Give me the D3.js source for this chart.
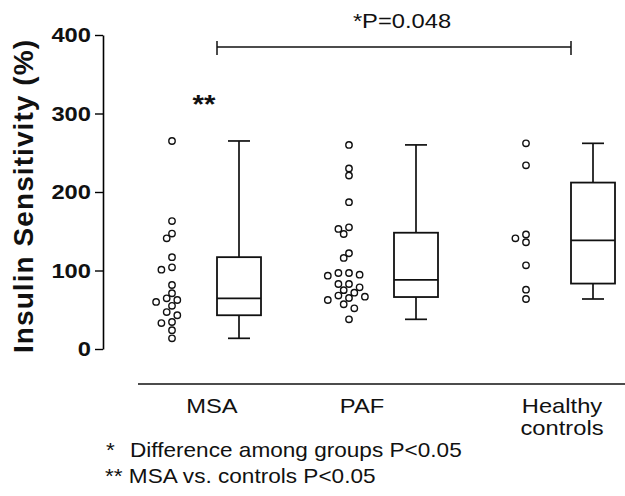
<!DOCTYPE html>
<html>
<head>
<meta charset="utf-8">
<script src="https://cdn.jsdelivr.net/npm/d3@7"></script>
<style>
  body { margin: 0; background: #fff; }
  svg { display: block; font-family: "Liberation Sans", Arial, sans-serif; }
</style>
</head>
<body>
<script>
// values
const groups = ["MSA", "PAF", "Healthy controls"];
const labelLines = [["MSA"], ["PAF"], ["Healthy", "controls"]];
const msaValues = [265, 163, 147, 141, 117, 104, 101, 81.5, 71, 64.5, 62.4, 60, 55, 47, 43, 34.4, 33, 24, 13.6];
const pafValues = [260, 230, 221, 187, 155, 153, 146.5, 122, 116, 96.8, 96.8, 94.7, 93.4, 82.8, 82.8, 78.6,
                   75, 71.7, 68, 66.6, 65, 62.4, 62.4, 57, 51.8, 37.8];
const controlValues = [262, 234, 146, 141, 136, 106.6, 75.6, 63.7];
const yTicks = [0, 100, 200, 300, 400];
const bracketText = "*P=0.048";
const starText = "**";
const notes = ["Difference among groups P<0.05", "** MSA vs. controls P<0.05"];

const series = [msaValues, pafValues, controlValues];

const W = 625, H = 496;
const sx = 1.13; // text in the picture is a bit wider than normal

const svg = d3.select("body").append("svg")
  .attr("width", W)
  .attr("height", H);

const y = d3.scaleLinear().domain([0, 400]).range([349, 35]);
const x = d3.scalePoint().domain(groups).range([172, 526]);
const boxDx = 67, boxHalf = 22, capHalf = 11;
const labelDx = [40, 13, 36];

// prism style quartiles, (n+1) positions
function q(sorted, p) {
  const pos = p * (sorted.length + 1);
  const lo = Math.floor(pos);
  if (lo < 1) return sorted[0];
  if (lo >= sorted.length) return sorted[sorted.length - 1];
  return sorted[lo - 1] + (pos - lo) * (sorted[lo] - sorted[lo - 1]);
}

// simple swarm so that circles don't pile up
function swarm(values, step, minDist) {
  const placed = [];
  const order = values.slice().sort((a, b) => b - a);
  order.forEach(v => {
    const py = y(v);
    for (let k of [0, -1, 1, -2, 2, -3, 3, -4, 4]) {
      const dx = k * step;
      if (placed.every(p => (p.dx - dx) ** 2 + (p.py - py) ** 2 >= minDist * minDist)) {
        placed.push({ v, dx, py });
        break;
      }
    }
  });
  return placed;
}

// y axis
const yAxis = svg.append("g")
  .attr("transform", "translate(103,0)")
  .call(d3.axisLeft(y).tickValues(yTicks).tickSize(8).tickSizeOuter(0).tickPadding(5));
yAxis.select(".domain").attr("stroke-width", 1.6);
yAxis.selectAll(".tick line").attr("stroke-width", 1.4);
yAxis.selectAll(".tick text")
  .attr("fill", "#111")
  .style("font-size", "21px")
  .style("font-weight", "bold")
  .style("font-family", "'Liberation Sans', Arial, sans-serif")
  .attr("x", -12 / sx)
  .attr("transform", `scale(${sx},1)`);

svg.append("text")
  .attr("transform", "translate(33,196.5) rotate(-90)")
  .attr("text-anchor", "middle")
  .attr("textLength", 313)
  .attr("lengthAdjust", "spacing")
  .style("font-size", "28px")
  .style("font-weight", "bold")
  .attr("fill", "#111")
  .text("Insulin Sensitivity (%)");

// groups
groups.forEach((g, i) => {
  const vals = series[i].slice().sort((a, b) => a - b);
  const cx = x(g);
  const bx = cx + boxDx;
  const q1 = q(vals, 0.25), med = q(vals, 0.5), q3 = q(vals, 0.75);
  const lo = d3.min(vals), hi = d3.max(vals);
  const grp = svg.append("g").attr("stroke", "#111").attr("fill", "none");

  grp.selectAll("circle")
    .data(swarm(series[i], 5.3, 7))
    .enter().append("circle")
    .attr("cx", d => cx + d.dx)
    .attr("cy", d => d.py)
    .attr("r", 3.2)
    .attr("stroke-width", 1.4)
    .attr("fill", "#fff");

  grp.append("line").attr("x1", bx).attr("x2", bx).attr("y1", y(hi)).attr("y2", y(q3)).attr("stroke-width", 1.7);
  grp.append("line").attr("x1", bx).attr("x2", bx).attr("y1", y(q1)).attr("y2", y(lo)).attr("stroke-width", 1.7);
  grp.append("line").attr("x1", bx - capHalf).attr("x2", bx + capHalf).attr("y1", y(hi)).attr("y2", y(hi)).attr("stroke-width", 1.7);
  grp.append("line").attr("x1", bx - capHalf).attr("x2", bx + capHalf).attr("y1", y(lo)).attr("y2", y(lo)).attr("stroke-width", 1.7);
  grp.append("rect")
    .attr("x", bx - boxHalf).attr("width", boxHalf * 2)
    .attr("y", y(q3)).attr("height", y(q1) - y(q3))
    .attr("stroke-width", 1.8);
  grp.append("line").attr("x1", bx - boxHalf).attr("x2", bx + boxHalf).attr("y1", y(med)).attr("y2", y(med)).attr("stroke-width", 1.8);

  // category label
  const t = svg.append("text")
    .attr("transform", `translate(${cx + labelDx[i]},412.5) scale(${sx},1)`)
    .attr("text-anchor", "middle")
    .style("font-size", "21px")
    .attr("fill", "#111");
  labelLines[i].forEach((ln, j) => {
    t.append("tspan").attr("x", 0).attr("y", j * 22.5).text(ln);
  });
});

// baseline under the groups
svg.append("line")
  .attr("x1", 138).attr("x2", W)
  .attr("y1", 384).attr("y2", 384)
  .attr("stroke", "#111").attr("stroke-width", 1.4);

// significance bracket, between left box edges of MSA and controls
const bL = x(groups[0]) + boxDx - boxHalf;
const bR = x(groups[2]) + boxDx - boxHalf;
const br = svg.append("g").attr("stroke", "#111").attr("stroke-width", 1.5);
br.append("line").attr("x1", bL).attr("x2", bR).attr("y1", 47).attr("y2", 47);
br.append("line").attr("x1", bL).attr("x2", bL).attr("y1", 41).attr("y2", 55);
br.append("line").attr("x1", bR).attr("x2", bR).attr("y1", 41).attr("y2", 55);

svg.append("text")
  .attr("transform", `translate(402,28.3) scale(${sx},1)`)
  .attr("text-anchor", "middle")
  .style("font-size", "21px")
  .attr("fill", "#111")
  .text(bracketText);

svg.append("text")
  .attr("transform", `translate(${x(groups[0]) + 32},113) scale(${sx},1)`)
  .attr("text-anchor", "middle")
  .style("font-size", "26px")
  .style("font-weight", "bold")
  .attr("fill", "#111")
  .text(starText);

// footnotes
svg.append("text")
  .attr("transform", `translate(106,457.3) scale(${sx},1)`)
  .style("font-size", "20px")
  .attr("fill", "#111")
  .text("*");
svg.append("text")
  .attr("transform", `translate(130,457.3) scale(${sx},1)`)
  .style("font-size", "20px")
  .attr("fill", "#111")
  .text(notes[0]);
svg.append("text")
  .attr("transform", `translate(105,482.7) scale(${sx},1)`)
  .style("font-size", "20px")
  .attr("fill", "#111")
  .text(notes[1]);
</script>
</body>
</html>
